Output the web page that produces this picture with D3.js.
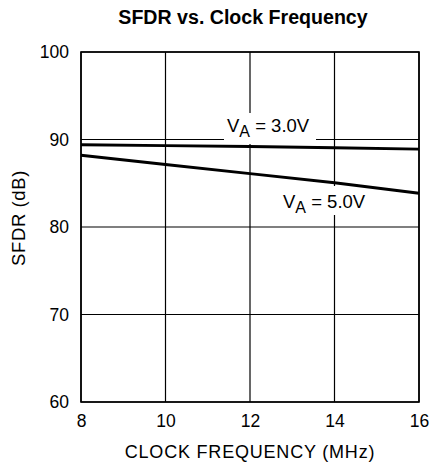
<!DOCTYPE html>
<html>
<head>
<meta charset="utf-8">
<script src="https://cdn.jsdelivr.net/npm/d3@7"></script>
<style>
  html, body { margin: 0; padding: 0; background: #fff; }
  text { font-family: "Liberation Sans", Arial, Helvetica, sans-serif; fill: #000; }
</style>
</head>
<body>
<svg id="chart" width="431" height="467"></svg>
<script>
const freqs = [8, 10, 12, 14, 16];
const sfdr30 = [89.4, 89.3, 89.2, 89.05, 88.9];
const sfdr50 = [88.2, 87.15, 86.1, 85.05, 83.85];
const xTicks = [8, 10, 12, 14, 16];
const yTicks = [60, 70, 80, 90, 100];
const seriesLabels = ["3.0V", "5.0V"];

const W = 431, H = 467;
const m = { left: 81, right: 12, top: 52, bottom: 65 };
const svg = d3.select("#chart");
const x = d3.scaleLinear().domain([8, 16]).range([m.left, W - m.right]);
const y = d3.scaleLinear().domain([60, 100]).range([H - m.bottom, m.top]);

// title
svg.append("text").attr("x", 243).attr("y", 24).attr("text-anchor", "middle")
  .attr("font-size", 19.6).attr("font-weight", "bold").text("SFDR vs. Clock Frequency");

// grid
const g = svg.append("g");
g.selectAll("line.v").data(xTicks).enter().append("line")
  .attr("x1", d => x(d)).attr("x2", d => x(d))
  .attr("y1", y(60)).attr("y2", y(100))
  .attr("stroke", "#000").attr("stroke-width", 1.2);
g.selectAll("line.h").data(yTicks).enter().append("line")
  .attr("y1", d => y(d)).attr("y2", d => y(d))
  .attr("x1", x(8)).attr("x2", x(16))
  .attr("stroke", "#000").attr("stroke-width", 1.2);
g.append("rect").attr("x", x(8)).attr("y", y(100))
  .attr("width", x(16) - x(8)).attr("height", y(60) - y(100))
  .attr("fill", "none").attr("stroke", "#000").attr("stroke-width", 1.6);

// axes tick labels
const xAxis = d3.axisBottom(x).tickValues(xTicks).tickSize(0).tickPadding(13).tickFormat(d3.format("d"));
const xg = svg.append("g").attr("transform", `translate(0,${y(60)})`).call(xAxis);
xg.select(".domain").remove();
xg.selectAll("text").attr("font-size", 17.5).attr("font-family", "Liberation Sans, Arial, sans-serif").attr("fill", "#000");

const yAxis = d3.axisLeft(y).tickValues(yTicks).tickSize(0).tickPadding(12).tickFormat(d3.format("d"));
const yg = svg.append("g").attr("transform", `translate(${x(8)},0)`).call(yAxis);
yg.select(".domain").remove();
yg.selectAll("text").attr("font-size", 17.5).attr("font-family", "Liberation Sans, Arial, sans-serif").attr("fill", "#000");

// axis titles
svg.append("text").attr("x", 250).attr("y", 458).attr("text-anchor", "middle")
  .attr("font-size", 18).attr("letter-spacing", 0.8).text("CLOCK FREQUENCY (MHz)");
svg.append("text").attr("transform", "translate(25,218) rotate(-90)").attr("text-anchor", "middle")
  .attr("font-size", 18.5).attr("letter-spacing", 0.6).text("SFDR (dB)");

// labels with white background
function vaLabel(cx, baseline, volt, box) {
  svg.append("rect").attr("x", box[0]).attr("y", box[1]).attr("width", box[2]).attr("height", box[3]).attr("fill", "#fff");
  const t = svg.append("text").attr("x", cx).attr("y", baseline).attr("font-size", 18.5);
  t.append("tspan").text("V");
  t.append("tspan").attr("dy", 5).attr("font-size", 16).text("A");
  t.append("tspan").attr("dy", -5).text(" = " + volt);
}
vaLabel(227, 132, seriesLabels[0], [224, 113, 92, 31]);
vaLabel(283, 208, seriesLabels[1], [280, 186, 88, 29]);

// lines
const line = d3.line().x((d, i) => x(freqs[i])).y(d => y(d));
[sfdr30, sfdr50].forEach(s => {
  svg.append("path").attr("d", line(s)).attr("fill", "none")
    .attr("stroke", "#000").attr("stroke-width", 3);
});
</script>
</body>
</html>
